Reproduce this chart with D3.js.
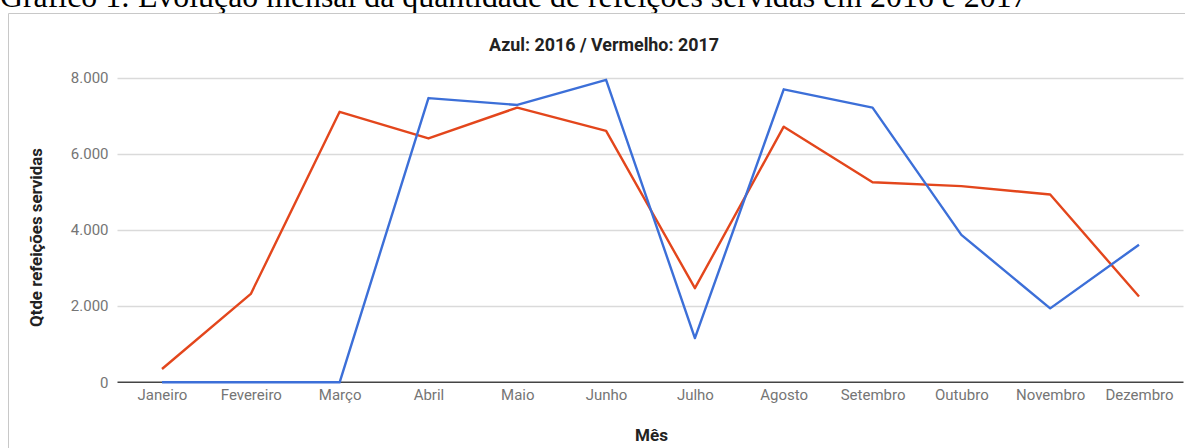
<!DOCTYPE html>
<html><head><meta charset="utf-8">
<script src="https://cdn.jsdelivr.net/npm/d3@7/dist/d3.min.js"></script>
<style>
html,body{margin:0;padding:0;background:#fff;overflow:hidden;}
svg{display:block;}
</style></head>
<body>
<svg id="c" width="1185" height="448"></svg>
<script>
const months = ["Janeiro","Fevereiro","Março","Abril","Maio","Junho","Julho","Agosto","Setembro","Outubro","Novembro","Dezembro"];
const values2016 = [0,0,0,7460,7280,7940,1160,7690,7210,3870,1940,3610];
const values2017 = [350,2320,7100,6400,7210,6600,2470,6710,5250,5150,4930,2250];
const yTicks = [0,2000,4000,6000,8000];
const figureCaption = "Gráfico 1: Evolução mensal da quantidade de refeições servidas em 2016 e 2017";
const chartTitle = "Azul: 2016 / Vermelho: 2017";
const yLabel = "Qtde refeições servidas";
const xLabel = "Mês";

const svg = d3.select("#c");
const W = 1185, H = 448;
const plot = {left:117.5, right:1183.5, top:77.5, bottom:382.3};
const FONT = "Roboto,Arial,sans-serif";

function fitText(sel, target) {
  sel.attr("font-size", 100);
  const w = sel.node().getComputedTextLength();
  sel.attr("font-size", 100 * target / w);
  return sel;
}

// caption
const cap = svg.append("text").text(figureCaption)
  .attr("x",0).attr("y",6.5)
  .attr("font-family","'Liberation Serif','Times New Roman',serif")
  .attr("fill","#000");
fitText(cap, 1028);

// box border
svg.append("line").attr("x1",8.5).attr("x2",W).attr("y1",13.5).attr("y2",13.5).attr("stroke","#c8c8c8").attr("stroke-width",1);
svg.append("line").attr("x1",8.5).attr("x2",8.5).attr("y1",13.5).attr("y2",H).attr("stroke","#c8c8c8").attr("stroke-width",1);

const x = d3.scalePoint().domain(months).range([162,1139]);
const y = d3.scaleLinear().domain([0,8000]).range([plot.bottom, plot.top]);

const fmt = d => d3.format(",")(d).replace(/,/g,".");

// gridlines
svg.append("g").selectAll("line").data(yTicks.filter(d=>d>0)).join("line")
  .attr("x1",plot.left).attr("x2",plot.right)
  .attr("y1",d=>Math.round(y(d))+0.5).attr("y2",d=>Math.round(y(d))+0.5)
  .attr("stroke","#dadada").attr("stroke-width",1.5);

// y axis labels
const yAxis = d3.axisLeft(y).tickValues(yTicks).tickFormat(fmt).tickSize(0).tickPadding(0);
const gy = svg.append("g").attr("transform",`translate(${plot.left-9},0)`).call(yAxis);
gy.select(".domain").remove();
gy.selectAll("text").attr("font-family",FONT).attr("font-size",15).attr("fill","#757575");

// x axis
const xAxis = d3.axisBottom(x).tickSize(0).tickPadding(7.5);
const gx = svg.append("g").attr("transform",`translate(0,${plot.bottom})`).call(xAxis);
gx.select(".domain").remove();
gx.selectAll("text").attr("font-family",FONT).attr("font-size",15).attr("fill","#757575");

// baseline
svg.append("line").attr("x1",plot.left).attr("x2",plot.right)
  .attr("y1",y(0)).attr("y2",y(0)).attr("stroke","#444").attr("stroke-width",1.5);

// lines
const line = d3.line().x((d,i)=>x(months[i])).y(d=>y(d));
svg.append("path").datum(values2017).attr("d",line).attr("fill","none")
  .attr("stroke","#e3461c").attr("stroke-width",2.4).attr("stroke-linejoin","round");
svg.append("path").datum(values2016).attr("d",line).attr("fill","none")
  .attr("stroke","#3c6fd8").attr("stroke-width",2.4).attr("stroke-linejoin","round");

// title
const t = svg.append("text").text(chartTitle).attr("x",604).attr("y",51)
  .attr("text-anchor","middle").attr("font-family",FONT)
  .attr("font-weight","bold").attr("fill","#222");
fitText(t, 230);

// axis titles
const yl = svg.append("text").text(yLabel).attr("transform","translate(42,237.5) rotate(-90)")
  .attr("text-anchor","middle").attr("font-family",FONT)
  .attr("font-weight","bold").attr("fill","#222");
fitText(yl, 179);
const xl = svg.append("text").text(xLabel).attr("x",651.5).attr("y",441)
  .attr("text-anchor","middle").attr("font-family",FONT)
  .attr("font-weight","bold").attr("fill","#222");
fitText(xl, 33);
</script>
</body></html>
